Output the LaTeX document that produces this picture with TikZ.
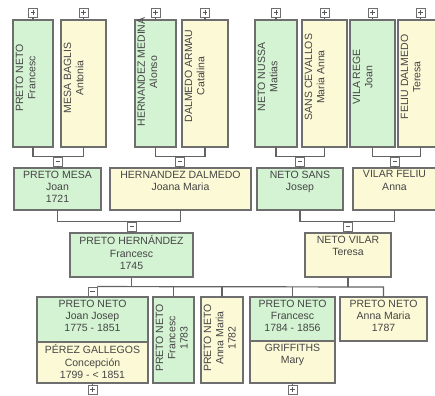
\documentclass[tikz,border=0pt]{standalone}
\usepackage{fontspec}
\setmainfont{Liberation Sans}
\definecolor{gfill}{HTML}{D3F3D3}
\definecolor{yfill}{HTML}{FCFAD6}
\definecolor{bord}{HTML}{6E6E6E}
\definecolor{txtc}{HTML}{454545}
\newcommand\fsz{\fontsize{10.5}{12.3}\selectfont}
\tikzset{
  famrect/.style={draw=bord, line width=1.3pt, inner sep=0pt, outer sep=0pt},
  nm/.style={font=\fsz, text=txtc, align=center, inner sep=1.5pt},
  conn/.style={draw=bord!90!black, line width=1.2pt},
  pmbox/.style={draw=bord, fill=white, line width=0.9pt, minimum size=9pt, inner sep=0pt},
  minusbox/.style={pmbox, path picture={\draw[line width=0.8pt,bord!80!black] ([xshift=-2.3pt]path picture bounding box.center) -- ([xshift=2.3pt]path picture bounding box.center);}},
  plusbox/.style={pmbox, path picture={\draw[line width=0.8pt,bord!80!black] ([xshift=-2.3pt]path picture bounding box.center) -- ([xshift=2.3pt]path picture bounding box.center) ([yshift=-2.3pt]path picture bounding box.center) -- ([yshift=2.3pt]path picture bounding box.center);}}
}
% name, x, y, w, h, fill
\newcommand\fambox[6]{\node[famrect, fill=#6, minimum width=#4pt, minimum height=#5pt, anchor=north west] (#1) at (#2,#3) {};}
\begin{document}
\begin{tikzpicture}[x=1pt,y=-1pt]
\useasboundingbox (0,0) rectangle (435,395);
\fill[white] (0,0) rectangle (435,395);
\begin{scope}
\clip (0,0) rectangle (435,395);
% ---------- top row (vertical) ----------
\fambox{t1}{13}{20}{40}{127}{gfill}
\fambox{t2}{61}{20}{45}{127}{yfill}
\fambox{t3}{135}{20}{41}{127}{gfill}
\fambox{t4}{182}{20}{46}{127}{yfill}
\fambox{t5}{255}{20}{42}{127}{gfill}
\fambox{t6}{302}{20}{45}{127}{yfill}
\fambox{t7}{350}{20}{45}{127}{gfill}
\fambox{t8}{398}{20}{45}{127}{yfill}
\node[nm, rotate=90, anchor=north] (t1x) at (14,78) {PRETO NETO\\Francesc};
\node[nm, rotate=90, anchor=north] (t2x) at (62,78) {MESA BAGLIS\\Antonia};
\node[nm, rotate=90, anchor=north] (t3x) at (136,72) {HERNANDEZ MEDINA\\Alonso};
\node[nm, rotate=90, anchor=north] (t4x) at (183,76) {DALMEDO ARMAU\\Catalina};
\node[nm, rotate=90, anchor=north] (t5x) at (256,77) {NETO NUSSA\\Matias};
\node[nm, rotate=90, anchor=north] (t6x) at (303,77) {SANS CEVALLOS\\Maria Anna};
\node[nm, rotate=90, anchor=north] (t7x) at (351,77) {VILA REGE\\Joan};
\node[nm, rotate=90, anchor=north] (t8x) at (399,77) {FELIU DALMEDO\\Teresa};
\foreach \n/\cx in {t1/33,t2/83.5,t3/155.5,t4/205,t5/276,t6/324.5,t7/372.5,t8/420.5}{
  \node[plusbox] (p\n) at (\cx,12.5) {};
  \draw[conn] (p\n.south) -- (\n.north);
}
% ---------- row 2 ----------
\fambox{r1}{14}{168}{87}{42}{gfill}
\fambox{r2}{110}{168}{141}{42}{yfill}
\fambox{r3}{257}{168}{86}{42}{gfill}
\fambox{r4}{353}{168}{83}{42}{yfill}
\node[nm, anchor=north] (r1x) at ([yshift=-1pt]r1.north) {PRETO MESA\\Joan\\1721};
\node[nm, anchor=north] (r2x) at ([yshift=-1pt]r2.north) {HERNANDEZ DALMEDO\\Joana Maria};
\node[nm, anchor=north] (r3x) at ([yshift=-1pt]r3.north) {NETO SANS\\Josep};
\node[nm, anchor=north] (r4x) at ([yshift=-1pt]r4.north) {VILAR FELIU\\Anna};
\node[minusbox] (m1) at (58,161.5) {};
\node[minusbox] (m2) at (180,161.5) {};
\node[minusbox] (m3) at (300,161.5) {};
\node[minusbox] (m4) at (395,161.5) {};
\draw[conn] (t1.south) |- (m1.north) -| (t2.south);
\draw[conn] (t3.south) |- (m2.north) -| (t4.south);
\draw[conn] (t5.south) |- (m3.north) -| (t6.south);
\draw[conn] (t7.south) |- (m4.north) -| (t8.south);
\draw[conn] (m1.south) -- (m1.south |- r1.north);
\draw[conn] (m2.south) -- (m2.south |- r2.north);
\draw[conn] (m3.south) -- (m3.south |- r3.north);
\draw[conn] (m4.south) -- (m4.south |- r4.north);
% ---------- row 3 ----------
\fambox{q1}{70}{233}{123}{44}{gfill}
\fambox{q2}{305}{233}{86}{44}{yfill}
\node[nm, anchor=north] (q1x) at ([yshift=-1pt]q1.north) {PRETO HERNÁNDEZ\\Francesc\\1745};
\node[nm, anchor=north] (q2x) at ([yshift=-1pt]q2.north) {NETO VILAR\\Teresa};
\node[minusbox] (m5) at (132,226.5) {};
\node[minusbox] (m6) at (348,226.5) {};
\draw[conn] (r1.south) |- (m5.north) -| (r2.south);
\draw[conn] (r3.south) |- (m6.north) -| (r4.south);
\draw[conn] (m5.south) -- (m5.south |- q1.north);
\draw[conn] (m6.south) -- (m6.south |- q2.north);
% ---------- row 4 ----------
\fambox{c1a}{37}{297}{111}{45}{gfill}
\fambox{c1b}{37}{342}{111}{41}{yfill}
\fambox{c2}{153}{297}{41}{86}{gfill}
\fambox{c3}{201}{297}{42}{86}{yfill}
\fambox{c4a}{250}{297}{85}{44}{gfill}
\fambox{c4b}{250}{341}{85}{42}{yfill}
\fambox{c5}{340}{297}{87}{44}{yfill}
\node[nm, anchor=north] (c1ax) at ([yshift=-1pt]c1a.north) {PRETO NETO\\Joan Josep\\1775 - 1851};
\node[nm, anchor=north] (c1bx) at ([yshift=-1pt]c1b.north) {PÉREZ GALLEGOS\\Concepción\\1799 - < 1851};
\node[nm, rotate=90, anchor=north] (c2x) at (154,338) {PRETO NETO\\Francesc\\1783};
\node[nm, rotate=90, anchor=north] (c3x) at (202,338) {PRETO NETO\\Anna Maria\\1782};
\node[nm, anchor=north] (c4ax) at ([yshift=-1pt]c4a.north) {PRETO NETO\\Francesc\\1784 - 1856};
\node[nm, anchor=north] (c4bx) at ([yshift=-1pt]c4b.north) {GRIFFITHS\\Mary};
\node[nm, anchor=north] (c5x) at ([yshift=-1pt]c5.north) {PRETO NETO\\Anna Maria\\1787};
\node[minusbox] (m7) at (92.5,291.5) {};
\coordinate (hl) at (0,287);
\draw[conn] (q1.south) -- (q1.south |- hl);
\draw[conn] (q2.south) -- (q2.south |- hl);
\draw[conn] (m7.north east) -- (c5.north |- hl) -- (c5.north);
\draw[conn] (c2.north |- hl) -- (c2.north);
\draw[conn] (c3.north |- hl) -- (c3.north);
\draw[conn] (c4a.north |- hl) -- (c4a.north);
\draw[conn] (m7.south) -- (c1a.north);
\node[plusbox] (pb1) at (92.5,389.5) {};
\node[plusbox] (pb2) at (292.5,389.5) {};
\draw[conn] (c1b.south) -- (pb1.north);
\draw[conn] (c4b.south) -- (pb2.north);
\end{scope}
\end{tikzpicture}
\end{document}
